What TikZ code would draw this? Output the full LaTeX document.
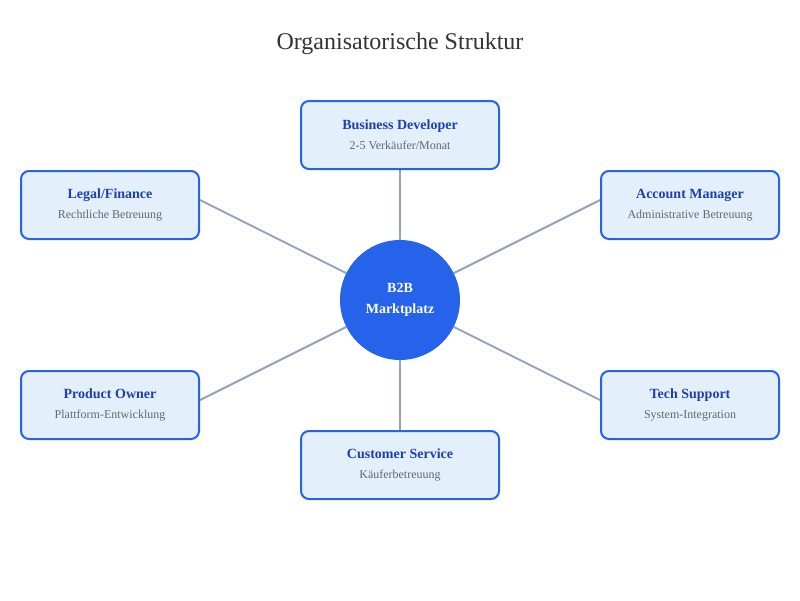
\documentclass[tikz,border=0pt]{standalone}
\usepackage{fontspec}
\setmainfont{Liberation Serif}
\usetikzlibrary{backgrounds}

\definecolor{hubblue}{HTML}{2563EB}
\definecolor{boxfill}{HTML}{E3F0FC}
\definecolor{headblue}{HTML}{1E40AF}
\definecolor{subgray}{HTML}{666666}
\definecolor{linkgray}{HTML}{94A3B8}
\definecolor{titlegray}{HTML}{333333}

\newcommand{\roletext}[2]{{\fontsize{14}{16}\selectfont\bfseries\color{headblue}#1}\\[8pt]{\fontsize{12}{14}\selectfont\color{subgray}#2}}

\begin{document}
\begin{tikzpicture}[x=1pt, y=-1pt,
    role/.style={rectangle, draw=hubblue, line width=2pt, fill=boxfill, rounded corners=8pt, minimum width=198pt, minimum height=68pt, align=center, inner sep=0pt},
    sidebox/.style={role, minimum width=178pt},
    link/.style={draw=linkgray, line width=2pt}]
    \useasboundingbox (0,0) rectangle (800,600);

    % Title
    \node (title) at (400,44) {\fontsize{24}{28}\selectfont\color{titlegray}Organisatorische Struktur};

    % Hub
    \node (hub) [circle, fill=hubblue, minimum size=120pt, inner sep=0pt, align=center, text=white, font=\fontsize{14}{21}\selectfont\bfseries] at (400,300) {B2B\\Marktplatz};

    % Roles
    \node (bizdev) [role] at (400,135) {\roletext{Business Developer}{2-5 Verkäufer/Monat}};
    \node (legal) [sidebox] at (110,205) {\roletext{Legal/Finance}{Rechtliche Betreuung}};
    \node (account) [sidebox] at (690,205) {\roletext{Account Manager}{Administrative Betreuung}};
    \node (owner) [sidebox] at (110,405) {\roletext{Product Owner}{Plattform-Entwicklung}};
    \node (tech) [sidebox] at (690,405) {\roletext{Tech Support}{System-Integration}};
    \node (service) [role] at (400,465) {\roletext{Customer Service}{Käuferbetreuung}};

    % Links
    \begin{scope}[on background layer]
        \draw[link] (hub) -- (bizdev);
        \draw[link] (hub) -- ([yshift=5pt]legal.east);
        \draw[link] (hub) -- ([yshift=5pt]account.west);
        \draw[link] (hub) -- ([yshift=5pt]owner.east);
        \draw[link] (hub) -- ([yshift=5pt]tech.west);
        \draw[link] (hub) -- (service);
    \end{scope}
\end{tikzpicture}
\end{document}
